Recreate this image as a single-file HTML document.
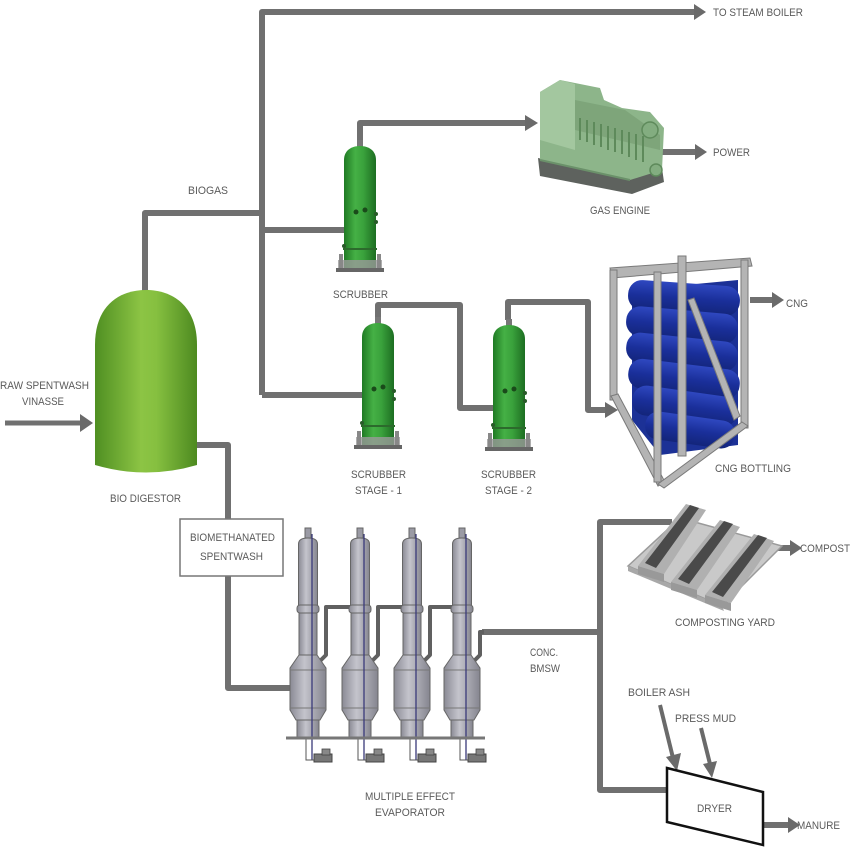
<!DOCTYPE html>
<html>
<head>
<meta charset="utf-8">
<style>
html,body{margin:0;padding:0;background:#fff;}
svg{display:block;}
text{font-family:"Liberation Sans",sans-serif;font-size:11px;fill:#5a5a5a;}
</style>
</head>
<body>
<svg width="850" height="850" viewBox="0 0 850 850" xmlns="http://www.w3.org/2000/svg">
<defs>
<linearGradient id="dig" x1="0" x2="1" y1="0" y2="0">
<stop offset="0" stop-color="#4f8f22"/>
<stop offset="0.45" stop-color="#8cc444"/>
<stop offset="0.6" stop-color="#86c040"/>
<stop offset="1" stop-color="#4d8a20"/>
</linearGradient>
<linearGradient id="scr" x1="0" x2="1" y1="0" y2="0">
<stop offset="0" stop-color="#1f7a24"/>
<stop offset="0.35" stop-color="#45b045"/>
<stop offset="0.6" stop-color="#3aa23c"/>
<stop offset="1" stop-color="#1d6e22"/>
</linearGradient>
<linearGradient id="evp" x1="0" x2="1" y1="0" y2="0">
<stop offset="0" stop-color="#8a8a94"/>
<stop offset="0.4" stop-color="#c4c4cc"/>
<stop offset="1" stop-color="#85858f"/>
</linearGradient>
<linearGradient id="cyl" x1="0" x2="0" y1="0" y2="1">
<stop offset="0" stop-color="#2f48c0"/>
<stop offset="0.5" stop-color="#1a2f9a"/>
<stop offset="1" stop-color="#13257a"/>
</linearGradient>
<g id="scrub">
<rect x="-3" y="-8" width="6" height="8" fill="#777"/>
<path d="M-16,12 C-16,2 -8,-2 0,-2 C8,-2 16,2 16,12 V120 H-16 Z" fill="url(#scr)"/>
<circle cx="-4" cy="64" r="2.5" fill="#1a4a1a"/>
<circle cx="5" cy="62" r="2.5" fill="#1a4a1a"/>
<circle cx="16" cy="66" r="2" fill="#2a5a2a"/>
<circle cx="16" cy="74" r="2" fill="#2a5a2a"/>
<circle cx="-16" cy="98" r="2" fill="#2a5a2a"/>
<rect x="-17" y="100" width="34" height="2" fill="#2c6a2c"/>
<rect x="-22" y="112" width="44" height="10" fill="#9a9a9a" opacity="0.8"/>
<rect x="-24" y="120" width="48" height="4" fill="#666"/>
<rect x="-21" y="106" width="4" height="14" fill="#888"/>
<rect x="17" y="106" width="4" height="14" fill="#888"/>
</g>
<g id="evap">
<rect x="-3" y="-2" width="6" height="10" fill="#9a9aa4" stroke="#666" stroke-width="1"/>
<path d="M-9.5,14 Q-9.5,8 0,8 Q9.5,8 9.5,14 V76 H-9.5 Z" fill="url(#evp)" stroke="#666" stroke-width="1"/>
<rect x="-11" y="75" width="22" height="8" rx="3" fill="url(#evp)" stroke="#666" stroke-width="1"/>
<rect x="-9" y="83" width="18" height="42" fill="url(#evp)" stroke="#666" stroke-width="1"/>
<path d="M-9,125 L-18,138 V180 L-12,190 H12 L18,180 V138 L9,125 Z" fill="url(#evp)" stroke="#666" stroke-width="1"/>
<line x1="-18" y1="140" x2="18" y2="140" stroke="#777" stroke-width="1"/>
<line x1="-18" y1="178" x2="18" y2="178" stroke="#777" stroke-width="1"/>
<rect x="-11" y="190" width="22" height="18" fill="url(#evp)" stroke="#666" stroke-width="1"/>
<line x1="4" y1="4" x2="4" y2="230" stroke="#3a3a7a" stroke-width="1.3"/>
<path d="M-2,208 V230 H6" fill="none" stroke="#555" stroke-width="1"/>
<rect x="6" y="224" width="18" height="8" fill="#777" stroke="#444" stroke-width="1"/>
<rect x="14" y="219" width="8" height="6" fill="#888" stroke="#444" stroke-width="0.8"/>
</g>
</defs>

<!-- pipes -->
<g fill="none" stroke="#707070" stroke-width="6" stroke-linejoin="round">
<path d="M145,292 V213 H262"/>
<path d="M262,395 V12 H696"/>
<path d="M262,230 H346"/>
<path d="M262,395 H364"/>
<path d="M360,141 V123 H527"/>
<path d="M660,152 H697"/>
<path d="M378,318 V305 H460 V408 H494"/>
<path d="M508,320 V302 H588 V410 H608"/>
<path d="M750,300 H774"/>
<path d="M5,423 H82" stroke-width="5"/>
<path d="M197,445 H228 V519"/>
<path d="M228,576 V688 H290"/>
<path d="M482,632 H600"/>
<path d="M672,522 H600 V790 H667"/>
<path d="M775,548 H792"/>
<path d="M763,825 H790"/>
</g>
<!-- arrowheads -->
<g fill="#6a6a6a">
<polygon points="694,4 706,12 694,20"/>
<polygon points="525,115 538,123 525,131"/>
<polygon points="695,144 707,152 695,160"/>
<polygon points="772,292 784,300 772,308"/>
<polygon points="605,402 618,410 605,418"/>
<polygon points="80,414 93,423 80,432"/>
<polygon points="790,540 802,548 790,556"/>
<polygon points="788,817 800,825 788,833"/>
</g>
<!-- diagonal arrows to dryer -->
<g stroke="#6a6a6a" stroke-width="4">
<line x1="660" y1="705" x2="673" y2="758"/>
<line x1="701" y1="728" x2="710" y2="764"/>
</g>
<g fill="#6a6a6a">
<polygon points="666,757 681,753 677,771"/>
<polygon points="703,764 717,761 712,778"/>
</g>

<!-- digestor -->
<path d="M95,465 V345 C95,305 120,290 146,290 C172,290 197,305 197,345 V465 Q146,480 95,465 Z" fill="url(#dig)"/>

<!-- scrubbers -->
<use href="#scrub" x="360" y="148"/>
<use href="#scrub" x="378" y="325"/>
<use href="#scrub" x="509" y="327"/>

<!-- gas engine -->
<g>
<polygon points="538,158 540,176 632,194 664,182 662,168 630,178" fill="#5e625e"/>
<polygon points="540,92 560,80 600,88 604,100 622,108 650,112 664,128 662,170 630,180 540,160" fill="#8db58a"/>
<polygon points="540,92 560,80 575,84 575,150 540,140" fill="#a3c79f"/>
<polygon points="575,100 625,110 660,135 660,150 575,130" fill="#7ea57a"/>
<g stroke="#5e8a5b" stroke-width="2">
<line x1="580" y1="118" x2="580" y2="140"/><line x1="587" y1="120" x2="587" y2="142"/>
<line x1="594" y1="122" x2="594" y2="145"/><line x1="601" y1="124" x2="601" y2="147"/>
<line x1="608" y1="126" x2="608" y2="150"/><line x1="615" y1="128" x2="615" y2="152"/>
<line x1="622" y1="130" x2="622" y2="154"/><line x1="629" y1="132" x2="629" y2="157"/>
<line x1="636" y1="134" x2="636" y2="160"/><line x1="643" y1="136" x2="643" y2="162"/>
</g>
<circle cx="650" cy="130" r="8" fill="#83ad80" stroke="#5e8a5b" stroke-width="1.5"/>
<circle cx="656" cy="170" r="6" fill="#83ad80" stroke="#5e8a5b" stroke-width="1.5"/>
<line x1="540" y1="160" x2="630" y2="180" stroke="#6b916a" stroke-width="2"/>
</g>

<!-- CNG rack -->
<g>
<polygon points="632,290 738,280 738,445 660,455 632,420" fill="#1c3196"/>
<g fill="url(#cyl)">
<rect x="628" y="283" width="112" height="30" rx="14" transform="rotate(4 684 298)"/>
<rect x="626" y="310" width="112" height="30" rx="14" transform="rotate(5 682 325)"/>
<rect x="626" y="337" width="112" height="30" rx="14" transform="rotate(6 682 352)"/>
<rect x="628" y="364" width="112" height="30" rx="14" transform="rotate(7 684 379)"/>
<rect x="632" y="391" width="106" height="30" rx="14" transform="rotate(8 685 406)"/>
<rect x="645" y="416" width="90" height="28" rx="13" transform="rotate(8 690 430)"/>
</g>
<g fill="#b4b4b4" stroke="#7a7a7a" stroke-width="1">
<polygon points="610,268 750,258 752,266 612,278"/>
<rect x="610" y="270" width="7" height="130"/>
<polygon points="611,396 618,394 665,482 658,486"/>
<rect x="654" y="272" width="7" height="210"/>
<rect x="678" y="256" width="8" height="200"/>
<rect x="741" y="260" width="7" height="168"/>
<polygon points="742,422 748,426 664,488 658,484"/>
<polygon points="688,300 694,298 740,416 734,420"/>
</g>
</g>

<!-- biomethanated box -->
<rect x="180" y="519" width="103" height="57" fill="#fff" stroke="#777" stroke-width="1.5"/>

<!-- evaporator interconnects -->
<g fill="none" stroke="#606060" stroke-width="4" stroke-linejoin="round">
<path d="M318,663 L326,655 V607 H350"/>
<path d="M370,663 L378,655 V607 H402"/>
<path d="M422,663 L430,655 V607 H452"/>
<path d="M472,663 L480,655 V632 H484"/>
</g>
<!-- evaporators -->
<use href="#evap" x="308" y="530"/>
<use href="#evap" x="360" y="530"/>
<use href="#evap" x="412" y="530"/>
<use href="#evap" x="462" y="530"/>
<line x1="286" y1="738" x2="485" y2="738" stroke="#777" stroke-width="3"/>

<!-- composting yard -->
<g>
<polygon points="628,566 680,518 782,546 722,606" fill="#c9c9c9" stroke="#9a9a9a" stroke-width="1.5"/>
<polygon points="628,566 722,606 724,611 628,571" fill="#a8a8a8"/>
<g>
<polygon points="638,566 686,504 706,510 664,574" fill="#b0b0b0"/>
<polygon points="645,563 690,505 699,508 656,568" fill="#4a4a4a"/>
<polygon points="638,566 664,574 664,582 638,574" fill="#999"/>
<polygon points="671,582 720,520 740,527 697,590" fill="#b0b0b0"/>
<polygon points="678,579 724,521 733,524 689,584" fill="#4a4a4a"/>
<polygon points="671,582 697,590 697,598 671,590" fill="#999"/>
<polygon points="705,595 754,534 774,541 731,603" fill="#b0b0b0"/>
<polygon points="712,592 758,535 767,538 723,597" fill="#4a4a4a"/>
<polygon points="705,595 731,603 731,611 705,603" fill="#999"/>
</g>
</g>

<!-- dryer -->
<polygon points="667,768 763,792 763,845 667,822" fill="#fff" stroke="#111" stroke-width="2.5"/>

<!-- labels -->
<text x="713" y="16" textLength="90" lengthAdjust="spacingAndGlyphs">TO STEAM BOILER</text>
<text x="713" y="156" textLength="37" lengthAdjust="spacingAndGlyphs">POWER</text>
<text x="590" y="214" textLength="60" lengthAdjust="spacingAndGlyphs">GAS ENGINE</text>
<text x="188" y="194" textLength="40" lengthAdjust="spacingAndGlyphs">BIOGAS</text>
<text x="333" y="298" textLength="55" lengthAdjust="spacingAndGlyphs">SCRUBBER</text>
<text x="786" y="307" textLength="22" lengthAdjust="spacingAndGlyphs">CNG</text>
<text x="0" y="389" textLength="89" lengthAdjust="spacingAndGlyphs">RAW SPENTWASH</text>
<text x="22" y="405" textLength="42" lengthAdjust="spacingAndGlyphs">VINASSE</text>
<text x="351" y="478" textLength="55" lengthAdjust="spacingAndGlyphs">SCRUBBER</text>
<text x="355" y="494" textLength="47" lengthAdjust="spacingAndGlyphs">STAGE - 1</text>
<text x="481" y="478" textLength="55" lengthAdjust="spacingAndGlyphs">SCRUBBER</text>
<text x="485" y="494" textLength="47" lengthAdjust="spacingAndGlyphs">STAGE - 2</text>
<text x="110" y="502" textLength="71" lengthAdjust="spacingAndGlyphs">BIO DIGESTOR</text>
<text x="715" y="472" textLength="76" lengthAdjust="spacingAndGlyphs">CNG BOTTLING</text>
<text x="190" y="541" textLength="85" lengthAdjust="spacingAndGlyphs">BIOMETHANATED</text>
<text x="200" y="560" textLength="63" lengthAdjust="spacingAndGlyphs">SPENTWASH</text>
<text x="675" y="626" textLength="100" lengthAdjust="spacingAndGlyphs">COMPOSTING  YARD</text>
<text x="800" y="552" textLength="50" lengthAdjust="spacingAndGlyphs">COMPOST</text>
<text x="530" y="656" textLength="28" lengthAdjust="spacingAndGlyphs">CONC.</text>
<text x="530" y="672" textLength="30" lengthAdjust="spacingAndGlyphs">BMSW</text>
<text x="628" y="696" textLength="62" lengthAdjust="spacingAndGlyphs">BOILER ASH</text>
<text x="675" y="722" textLength="61" lengthAdjust="spacingAndGlyphs">PRESS MUD</text>
<text x="697" y="812" textLength="35" lengthAdjust="spacingAndGlyphs">DRYER</text>
<text x="797" y="829" textLength="43" lengthAdjust="spacingAndGlyphs">MANURE</text>
<text x="365" y="800" textLength="90" lengthAdjust="spacingAndGlyphs">MULTIPLE EFFECT</text>
<text x="375" y="816" textLength="70" lengthAdjust="spacingAndGlyphs">EVAPORATOR</text>
</svg>
</body>
</html>
